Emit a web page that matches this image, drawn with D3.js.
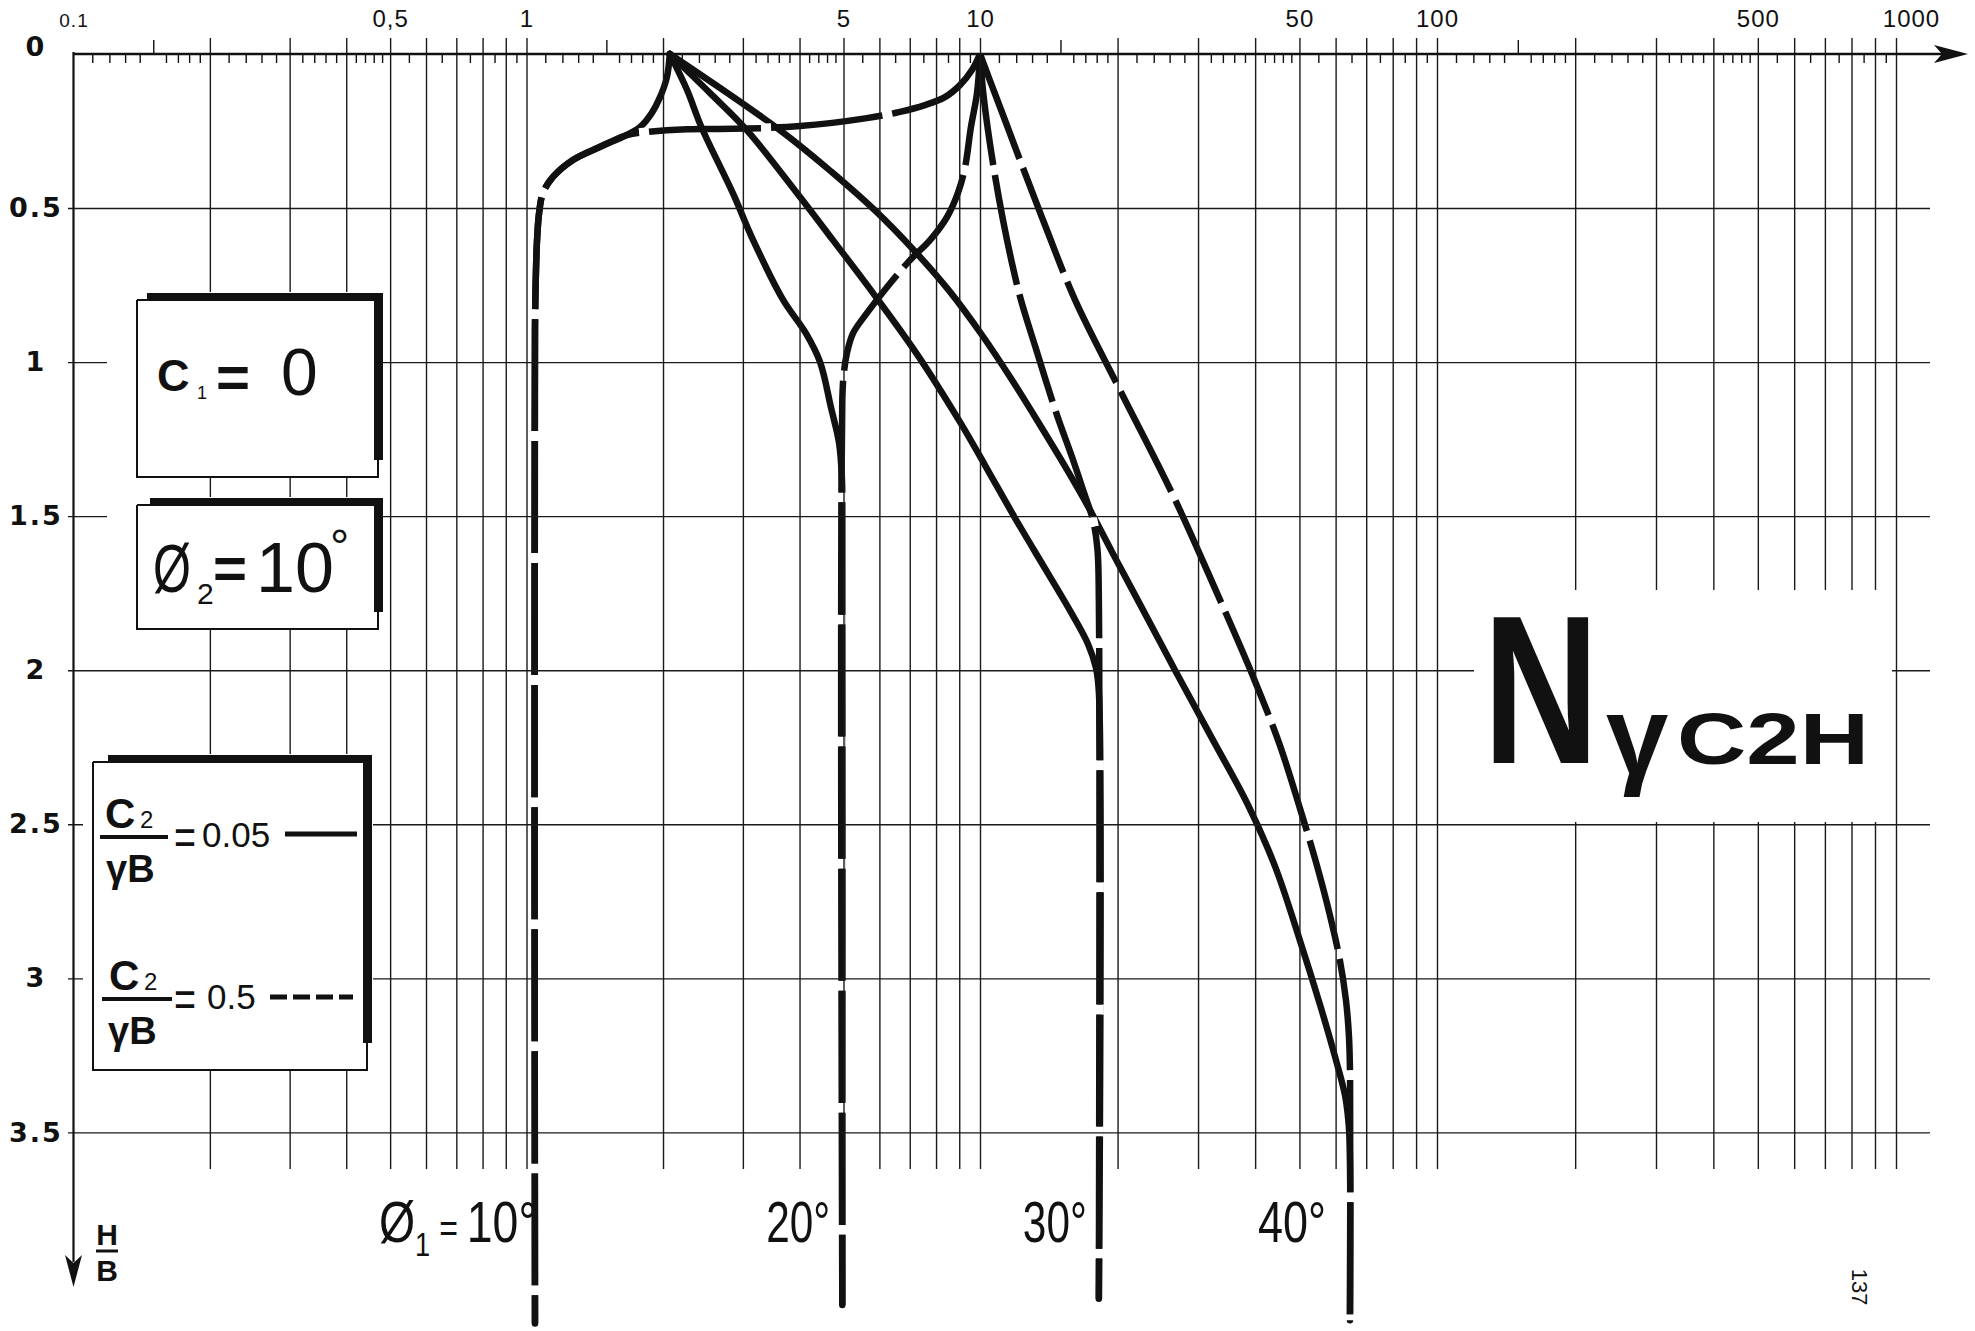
<!DOCTYPE html>
<html><head><meta charset="utf-8">
<script src="https://cdn.jsdelivr.net/npm/d3@7"></script>
<style>
html,body{margin:0;padding:0;background:#fff;}
svg{display:block;}
</style></head>
<body><svg id="c" width="1975" height="1331"></svg>
<script>
// ---------------- data ----------------
const xTickValues = [0.1, 0.5, 1, 5, 10, 50, 100, 500, 1000];
const xTickLabels = ["0.1", "0,5", "1", "5", "10", "50", "100", "500", "1000"];
const yTickValues = [0, 0.5, 1, 1.5, 2, 2.5, 3, 3.5];
const yTickLabels = ["0", "0.5", "1", "1.5", "2", "2.5", "3", "3.5"];
const gridDecades = [0.1, 1, 10, 100];
const gridMultiples = [1, 2, 3, 4, 5, 6, 7, 8, 9];
const rulerMinorMultiples = [1.1,1.2,1.3,1.4,1.6,1.7,1.8,1.9,2.2,2.4,2.6,2.8,3.2,3.4,3.6,3.8,4.2,4.4,4.6,4.8,5.5,6.5,7.5,8.5,9.5];
const rulerMidMultiples = [1.5];
const phi1Labels = ["10°", "20°", "30°", "40°"];
const legendRatios = ["0.05", "0.5"];

// curves: [N, H/B]   C2/γB = 0.05 (solid)
const solid10 = [[2.07,0],[2.04,0.075],[1.97,0.14],[1.89,0.191],[1.78,0.237],[1.63,0.269],[1.45,0.302],[1.266,0.344],[1.144,0.399],[1.087,0.451],[1.066,0.516],[1.055,0.604],[1.049,0.711],[1.044,0.896],[1.044,4.12]];
const solid20 = [[2.07,0],[2.26,0.117],[2.43,0.237],[2.85,0.451],[3.16,0.604],[3.68,0.798],[4.13,0.906],[4.44,1.0],[4.69,1.146],[4.89,1.263],[4.96,1.376],[4.97,1.5],[4.97,4.06]];
const solid30 = [[2.07,0],[2.54,0.127],[3.06,0.247],[4.01,0.464],[4.74,0.604],[5.81,0.776],[7.23,0.97],[9.03,1.194],[10.25,1.334],[11.93,1.506],[14.02,1.681],[15.9,1.818],[17.23,1.915],[17.94,1.993],[18.2,2.07],[18.2,4.04]];
const solid40 = [[2.07,0],[3.62,0.247],[4.71,0.383],[5.89,0.51],[7.14,0.636],[8.59,0.772],[10.1,0.912],[11.75,1.058],[13.53,1.204],[15.43,1.344],[17.41,1.48],[19.45,1.616],[21.95,1.762],[26.7,1.999],[32.35,2.227],[38.4,2.431],[44.2,2.636],[50.1,2.876],[55.5,3.087],[60.1,3.265],[62.9,3.379],[64.1,3.476],[64.5,3.59],[64.5,4.11]];
// C2/γB = 0.5 (dashed)
const dashed10 = [[10,0],[9.6,0.052],[9.03,0.101],[8.37,0.14],[7.56,0.166],[6.66,0.188],[5.63,0.208],[4.01,0.234],[2.85,0.243],[2.26,0.244],[1.84,0.253],[1.665,0.263],[1.45,0.302],[1.266,0.344],[1.144,0.399],[1.087,0.451],[1.066,0.516],[1.055,0.604],[1.049,0.711],[1.044,0.896],[1.044,4.12]];
const dashed20 = [[10,0],[9.85,0.127],[9.55,0.237],[9.27,0.367],[8.94,0.451],[8.46,0.529],[7.76,0.604],[7.01,0.669],[6.24,0.756],[5.63,0.841],[5.25,0.906],[5.09,0.97],[5.01,1.035],[4.97,1.123],[4.97,4.06]];
const dashed30 = [[10,0],[10.15,0.117],[10.41,0.247],[10.78,0.393],[11.23,0.539],[11.75,0.679],[12.29,0.798],[13.2,0.948],[14.74,1.172],[15.9,1.308],[16.9,1.425],[17.67,1.513],[18.07,1.606],[18.2,1.772],[18.2,4.04]];
const dashed40 = [[10,0],[10.5,0.084],[11.23,0.198],[12.23,0.344],[13.87,0.555],[16.14,0.798],[20.25,1.091],[26.3,1.425],[32.5,1.727],[39.8,2.029],[45.3,2.243],[50.1,2.447],[54.35,2.623],[58.3,2.795],[61.3,2.941],[63.2,3.07],[64.15,3.184],[64.5,3.298],[64.5,4.11]];

// ---------------- drawing ----------------
const FONT = "'Liberation Sans', Arial, Helvetica, sans-serif";
const INK = "#111";
const CURVE_W = 6.5;
const svg = d3.select("#c");
svg.append("rect").attr("width", 1975).attr("height", 1331).attr("fill", "#fff");

const x = d3.scaleLog().domain([0.1, 1, 10, 100, 1000]).range([73.5, 526.5, 980, 1437, 1896]);
const y = d3.scaleLinear().domain([0, 3.5]).range([54, 1132.4]);

const line = d3.line().x(d => x(d[0])).y(d => y(d[1])).curve(d3.curveCatmullRom.alpha(0.5));
const solids = [solid10, solid20, solid30, solid40];
const dashes = [dashed10, dashed20, dashed30, dashed40];

// curves
const gc = svg.append("g").attr("fill", "none").attr("stroke-linejoin", "round");
gc.selectAll("path.s").data(solids).join("path").attr("class", "s")
  .attr("d", line).attr("stroke", INK).attr("stroke-width", CURVE_W).attr("stroke-linecap", "round");
gc.selectAll("path.w").data(dashes).join("path").attr("class", "w")
  .attr("d", line).attr("stroke", "#fff").attr("stroke-width", CURVE_W + 2.5).attr("stroke-dasharray", "0 112 10 0");
gc.selectAll("path.d").data(dashes).join("path").attr("class", "d")
  .attr("d", line).attr("stroke", INK).attr("stroke-width", CURVE_W).attr("stroke-dasharray", "112 10");

// grid
const gridVals = [];
gridDecades.forEach(d => gridMultiples.forEach(k => { const v = +(k * d).toPrecision(6); if (v > 0.1) gridVals.push(v); }));
gridVals.push(1000);
const gx = svg.append("g").attr("transform", "translate(0,38)")
  .call(d3.axisTop(x).tickValues(gridVals).tickSize(-(1169 - 38)).tickFormat(""));
gx.select(".domain").remove();
gx.selectAll("line").attr("stroke", "#1a1a1a").attr("stroke-width", 1.4);

const gy = svg.append("g").attr("transform", "translate(68,0)")
  .call(d3.axisLeft(y).tickValues(yTickValues.filter(v => v > 0)).tickSize(-(1930 - 68)).tickFormat(""));
gy.select(".domain").remove();
gy.selectAll("line").attr("stroke", "#1a1a1a").attr("stroke-width", 1.4);

// white panels (legend boxes, title)
const panels = [[107, 292, 276, 186], [107, 497, 276, 133], [83, 754, 290, 317], [1474, 590, 418, 232]];
svg.append("g").selectAll("rect").data(panels).join("rect")
  .attr("x", d => d[0]).attr("y", d => d[1]).attr("width", d => d[2]).attr("height", d => d[3]).attr("fill", "#fff");

// ruler ticks on top axis
const minorVals = [], midVals = [];
gridDecades.forEach(d => {
  rulerMinorMultiples.forEach(k => minorVals.push(k * d));
  rulerMidMultiples.forEach(k => midVals.push(k * d));
});
const gmin = svg.append("g").attr("transform", "translate(0,54)")
  .call(d3.axisTop(x).tickValues(minorVals).tickSize(-9).tickFormat(""));
gmin.select(".domain").remove();
gmin.selectAll("line").attr("stroke", INK).attr("stroke-width", 1.4);
const gmid = svg.append("g").attr("transform", "translate(0,54)")
  .call(d3.axisTop(x).tickValues(midVals).tickSize(14).tickFormat(""));
gmid.select(".domain").remove();
gmid.selectAll("line").attr("stroke", INK).attr("stroke-width", 1.4);

// axis lines with arrows
svg.append("line").attr("x1", 73.5).attr("x2", 1945).attr("y1", 54).attr("y2", 54).attr("stroke", INK).attr("stroke-width", 2.5);
svg.append("path").attr("d", "M1968,54 L1934,45 L1942,54 L1934,63 Z").attr("fill", INK);
svg.append("line").attr("x1", 73.5).attr("x2", 73.5).attr("y1", 52).attr("y2", 1262).attr("stroke", INK).attr("stroke-width", 2.2);
svg.append("path").attr("d", "M73.5,1287 L65,1255 L73.5,1263 L82,1255 Z").attr("fill", INK);

// top labels
const gtl = svg.append("g").attr("transform", "translate(0,27)")
  .call(d3.axisTop(x).tickValues(xTickValues).tickSize(0).tickPadding(0).tickFormat((d, i) => xTickLabels[i]));
gtl.select(".domain").remove();
gtl.selectAll("text").attr("font-family", FONT).attr("fill", INK).attr("letter-spacing", 1)
  .attr("dx", d => d === 1000 ? 15 : 0)
  .attr("font-size", d => d === 0.1 ? 19 : 24);

// left labels
const gyl = svg.append("g").attr("transform", "translate(36,0)")
  .call(d3.axisLeft(y).tickValues(yTickValues).tickSize(0).tickPadding(0).tickFormat((d, i) => yTickLabels[i]));
gyl.select(".domain").remove();
gyl.selectAll("text").attr("font-family", "'DejaVu Sans', sans-serif").attr("font-weight", "bold")
  .attr("font-size", 27).attr("fill", INK).attr("text-anchor", "middle").attr("letter-spacing", 2)
  .attr("y", d => d === 0 ? -7 : 0);

// H/B label
svg.append("text").attr("x", 107).attr("y", 1245).attr("text-anchor", "middle").attr("font-family", FONT)
  .attr("font-weight", "bold").attr("font-size", 30).attr("fill", INK).text("H");
svg.append("line").attr("x1", 96).attr("x2", 118).attr("y1", 1251).attr("y2", 1251).attr("stroke", INK).attr("stroke-width", 3);
svg.append("text").attr("x", 107).attr("y", 1281).attr("text-anchor", "middle").attr("font-family", FONT)
  .attr("font-weight", "bold").attr("font-size", 30).attr("fill", INK).text("B");

// phi1 labels at the bottom
phi1Labels.forEach((lab, i) => {
  const sv = solids[i][solids[i].length - 1][0];
  const t = svg.append("text").attr("y", 1242).attr("font-family", FONT).attr("font-size", 58).attr("fill", INK)
    .attr("text-anchor", "end").attr("lengthAdjust", "spacingAndGlyphs");
  if (i === 0) {
    t.attr("x", x(sv) + 2).attr("textLength", 158);
    t.append("tspan").text("Ø");
    t.append("tspan").attr("font-size", 34).attr("dy", 14).text("1");
    t.append("tspan").attr("font-size", 40).attr("dy", -14).text(" = ");
    t.append("tspan").text(lab);
  } else {
    t.attr("x", x(sv) - (i === 3 ? 24 : 12)).attr("textLength", i === 3 ? 68 : 64).text(lab);
  }
});

// ----- legend boxes frames -----
const frame = svg.append("g");
function boxFrame(l, t, r, b, thickStartX, rightThickEnd) {
  frame.append("path").attr("d", `M${l},${t + 7} V${b} H${r - 5} V${rightThickEnd}`)
    .attr("fill", "none").attr("stroke", INK).attr("stroke-width", 2);
  frame.append("line").attr("x1", l).attr("x2", thickStartX).attr("y1", t + 7).attr("y2", t + 7).attr("stroke", INK).attr("stroke-width", 2);
  frame.append("rect").attr("x", thickStartX).attr("y", t).attr("width", r - thickStartX).attr("height", 8).attr("fill", INK);
  frame.append("rect").attr("x", r - 9).attr("y", t).attr("width", 9).attr("height", rightThickEnd - t).attr("fill", INK);
}
boxFrame(137, 293, 383, 477, 147, 460);
boxFrame(137, 498, 383, 629, 150, 612);
boxFrame(93, 755, 372, 1070, 108, 1043);

function txt(xp, yp, s, size, weight, extra) {
  const t = svg.append("text").attr("x", xp).attr("y", yp).attr("font-family", FONT)
    .attr("font-size", size).attr("font-weight", weight || "normal").attr("fill", INK).text(s);
  if (extra) extra(t);
  return t;
}
// box 1: C1 = 0
txt(157, 391, "C", 45, "bold");
txt(197, 399, "1", 18, "normal");
txt(216, 397, "=", 58, "bold", t => t.attr("textLength", 34).attr("lengthAdjust", "spacingAndGlyphs"));
txt(281, 395, "0", 66, "normal");
// box 2: Ø2 = 10°
txt(153, 592, "Ø", 68, "normal", t => t.attr("textLength", 38).attr("lengthAdjust", "spacingAndGlyphs"));
txt(197, 604, "2", 30, "normal");
txt(213, 588, "=", 58, "bold", t => t.attr("textLength", 34).attr("lengthAdjust", "spacingAndGlyphs"));
txt(256, 592, "10", 70, "normal");
txt(330, 563, "°", 48, "normal");
// box 3: C2/γB
const rowsY = [0, 162];
legendRatios.forEach((r, i) => {
  const dy = rowsY[i];
  txt(105 + i * 4, 828 + dy, "C", 42, "bold");
  txt(140 + i * 4, 828 + dy, "2", 24, "normal");
  svg.append("line").attr("x1", 100 + i * 2).attr("x2", 168 + i * 4).attr("y1", 837 + dy).attr("y2", 837 + dy)
    .attr("stroke", INK).attr("stroke-width", 4);
  txt(106 + i * 2, 882 + dy, "γB", 38, "bold");
  txt(174, 855 + dy, "=", 52, "normal", t => t.attr("textLength", 22).attr("lengthAdjust", "spacingAndGlyphs"));
  txt(202 + i * 5, 847 + dy, r, 35, "normal");
});
svg.append("line").attr("x1", 285).attr("x2", 357).attr("y1", 834).attr("y2", 834).attr("stroke", INK).attr("stroke-width", 5);
svg.append("line").attr("x1", 270).attr("x2", 353).attr("y1", 997).attr("y2", 997).attr("stroke", INK).attr("stroke-width", 5)
  .attr("stroke-dasharray", "17 6");

// title
txt(1483, 763, "N", 211, "bold", t => t.attr("textLength", 116).attr("lengthAdjust", "spacingAndGlyphs"));
txt(1606, 774, "γ", 112, "bold");
txt(1677, 764, "C2H", 72, "bold", t => t.attr("textLength", 192).attr("lengthAdjust", "spacingAndGlyphs"));

// page number
svg.append("text").attr("transform", "translate(1858,1287) rotate(90)").attr("text-anchor", "middle")
  .attr("dominant-baseline", "middle").attr("font-family", FONT).attr("font-size", 22).attr("fill", INK).text("137");
</script>
</body></html>
